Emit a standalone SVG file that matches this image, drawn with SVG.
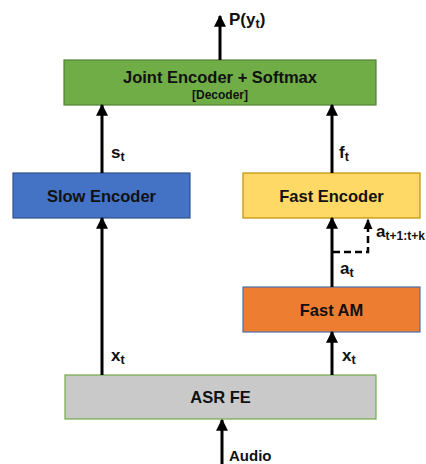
<svg xmlns="http://www.w3.org/2000/svg" width="426" height="464" viewBox="0 0 426 464">
  <style>
    .box { stroke-width: 1.2; }
    .lbl { font-family: "Liberation Sans", Arial, sans-serif; font-weight: bold; fill: #111; text-anchor: middle; font-size: 16.5px; }
    .var { font-family: "Liberation Sans", Arial, sans-serif; font-weight: bold; fill: #111; font-size: 17px; }
    .sub { font-size: 12.5px; }
    .small { font-size: 12px; }
    .audio { font-size: 15px; }
    .wire { stroke: #000; stroke-width: 3; fill: none; }
    .dash { stroke: #000; stroke-width: 2.5; fill: none; stroke-dasharray: 7 4; }
  </style>
  <defs>
    <marker id="head" viewBox="0 0 10 10" refX="9" refY="5" markerWidth="4" markerHeight="4" orient="auto" markerUnits="strokeWidth">
      <path d="M0,0 L10,5 L0,10 Z" fill="#000"/>
    </marker>
  </defs>
  <rect width="426" height="464" fill="#fff"/>

  <g id="joint">
    <rect class="box" x="64" y="60" width="312" height="45" fill="#70AD47" stroke="#548235"/>
    <text class="lbl" x="220" y="83">Joint Encoder + Softmax</text>
    <text class="lbl small" x="220" y="99">[Decoder]</text>
  </g>
  <g id="slow">
    <rect class="box" x="13" y="173" width="177" height="45" fill="#4472C4" stroke="#2F528F"/>
    <text class="lbl" x="101.5" y="202">Slow Encoder</text>
  </g>
  <g id="fastenc">
    <rect class="box" x="243" y="173" width="177" height="45" fill="#FFD966" stroke="#BF9000"/>
    <text class="lbl" x="331.5" y="202">Fast Encoder</text>
  </g>
  <g id="fastam">
    <rect class="box" x="243" y="287" width="177" height="45" fill="#ED7D31" stroke="#4F6FA8"/>
    <text class="lbl" x="331.5" y="316">Fast AM</text>
  </g>
  <g id="asrfe">
    <rect class="box" x="65" y="375" width="311" height="44" fill="#C9C9C9" stroke="#70AD47"/>
    <text class="lbl" x="220.5" y="403">ASR FE</text>
  </g>

  <g id="connectors">
    <path class="wire" d="M220,60 V16" marker-end="url(#head)"/>
    <path class="wire" d="M102,375 V218" marker-end="url(#head)"/>
    <path class="wire" d="M102,173 V105" marker-end="url(#head)"/>
    <path class="wire" d="M332,375 V332" marker-end="url(#head)"/>
    <path class="wire" d="M332,287 V218" marker-end="url(#head)"/>
    <path class="wire" d="M332,173 V105" marker-end="url(#head)"/>
    <path class="dash" d="M333,252 H368 V220"/>
    <path d="M363.5,229 L368,218.5 L372.5,229 Z" fill="#000"/>
    <path class="wire" d="M222,464 V420" marker-end="url(#head)"/>
  </g>

  <g id="labels">
    <text class="var" x="229" y="25">P(y<tspan class="sub" dy="3">t</tspan><tspan dy="-3">)</tspan></text>
    <text class="var" x="111" y="158">s<tspan class="sub" dy="3">t</tspan></text>
    <text class="var" x="339" y="158">f<tspan class="sub" dy="3">t</tspan></text>
    <text class="var" x="376" y="237">a<tspan class="small" dy="3">t+1:t+k</tspan></text>
    <text class="var" x="340" y="274">a<tspan class="sub" dy="3">t</tspan></text>
    <text class="var" x="111" y="361">x<tspan class="sub" dy="3">t</tspan></text>
    <text class="var" x="342" y="361">x<tspan class="sub" dy="3">t</tspan></text>
    <text class="var audio" x="229" y="461">Audio</text>
  </g>
</svg>
